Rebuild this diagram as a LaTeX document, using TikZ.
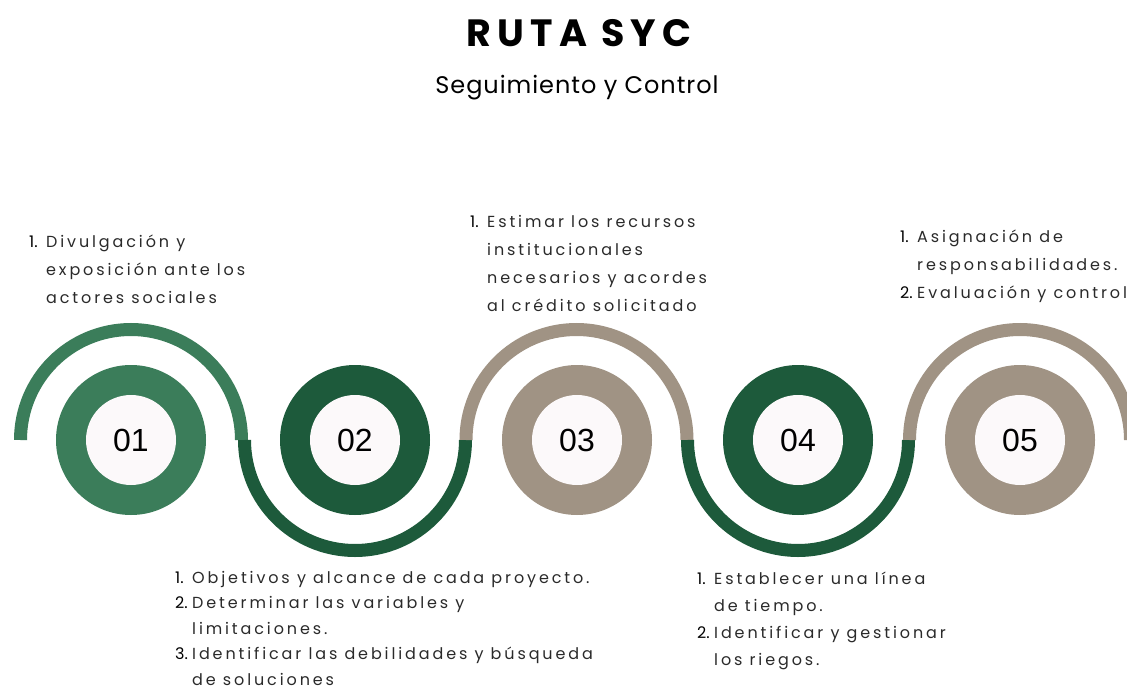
\documentclass[tikz,border=0pt]{standalone}
\usepackage{fontspec}
\setmainfont{Poppins}
\newfontfamily\titlefont[LetterSpace=16]{Poppins Bold}
\newfontfamily\subfont[LetterSpace=4]{Poppins}
\newfontfamily\bodyfont[LetterSpace=18]{Poppins}
\newfontfamily\itmfont{Poppins}
\newfontfamily\numfont{Liberation Sans}
\definecolor{gmid}{HTML}{3B7D5A}
\definecolor{gdark}{HTML}{1D5A3B}
\definecolor{taupe}{HTML}{A09384}
\definecolor{inner}{HTML}{FCF9FA}
\definecolor{txt}{HTML}{2A2A2A}
\newcommand{\itm}[1]{\makebox[17pt][l]{\itmfont\color{black}#1}}
\newcommand{\ind}{\hspace*{17pt}}
\tikzset{
  ring/.style={circle, minimum size=150pt, inner sep=0pt},
  hub/.style={circle, fill=inner, minimum size=90pt, inner sep=0pt, font=\numfont\fontsize{32}{32}\selectfont, text=black},
  arcline/.style={line width=13pt, line cap=butt},
  list/.style={anchor=base west, inner sep=0pt, text=txt},
}
\begin{document}
\begin{tikzpicture}[x=1pt,y=-1pt]
\clip (0,0) rectangle (1127,690);
\fill[white] (0,0) rectangle (1127,690);
% title
\node[anchor=base, inner sep=0pt] (title) at (579,46.5) {\titlefont\fontsize{38}{38}\selectfont RUTA SYC};
\node[anchor=base, inner sep=0pt] (sub) at (577,94) {\subfont\fontsize{24}{24}\selectfont Seguimiento y Control};
% arcs (centres at circle centres, radius 110.5)
\coordinate (a1) at (20.5,440);
\coordinate (a2) at (244.5,440);
\coordinate (a3) at (466,440);
\coordinate (a4) at (687.5,440);
\coordinate (a5) at (909.5,440);
\draw[arcline, gmid] (a1) arc[start angle=180, end angle=360, radius=110.5];
\draw[arcline, gdark] (a2) arc[start angle=180, end angle=0, radius=110.5];
\draw[arcline, taupe] (a3) arc[start angle=180, end angle=360, radius=110.5];
\draw[arcline, gdark] (a4) arc[start angle=180, end angle=0, radius=110.5];
\draw[arcline, taupe] (a5) arc[start angle=180, end angle=360, radius=110.5];
% circles
\node[ring, fill=gmid] (r1) at (131,440) {};
\node[ring, fill=gdark] (r2) at (355,440) {};
\node[ring, fill=taupe] (r3) at (577,440) {};
\node[ring, fill=gdark] (r4) at (798,440) {};
\node[ring, fill=taupe] (r5) at (1020,440) {};
\node[hub] (n1) at (r1) {01};
\node[hub] (n2) at (r2) {02};
\node[hub] (n3) at (r3) {03};
\node[hub] (n4) at (r4) {04};
\node[hub] (n5) at (r5) {05};
% lists
\node[list] (t1) at (29,247) {\bodyfont\fontsize{16}{28}\selectfont
\begin{tabular}[t]{@{}l@{}}
\itm{1.}Divulgación y\\
\ind exposición ante los\\
\ind actores sociales
\end{tabular}};
\node[list] (t3) at (470,227) {\bodyfont\fontsize{16}{28}\selectfont
\begin{tabular}[t]{@{}l@{}}
\itm{1.}Estimar los recursos\\
\ind institucionales\\
\ind necesarios y acordes\\
\ind al crédito solicitado
\end{tabular}};
\node[list] (t5) at (900,242) {\bodyfont\fontsize{16}{28}\selectfont
\begin{tabular}[t]{@{}l@{}}
\itm{1.}Asignación de\\
\ind responsabilidades.\\
\itm{2.}Evaluación y control
\end{tabular}};
\node[list] (t2) at (175,583) {\bodyfont\fontsize{16}{25.5}\selectfont
\begin{tabular}[t]{@{}l@{}}
\itm{1.}Objetivos y alcance de cada proyecto.\\
\itm{2.}Determinar las variables y\\
\ind limitaciones.\\
\itm{3.}Identificar las debilidades y búsqueda\\
\ind de soluciones
\end{tabular}};
\node[list] (t4) at (697,584) {\bodyfont\fontsize{16}{27}\selectfont
\begin{tabular}[t]{@{}l@{}}
\itm{1.}Establecer una línea\\
\ind de tiempo.\\
\itm{2.}Identificar y gestionar\\
\ind los riegos.
\end{tabular}};
\end{tikzpicture}
\end{document}
